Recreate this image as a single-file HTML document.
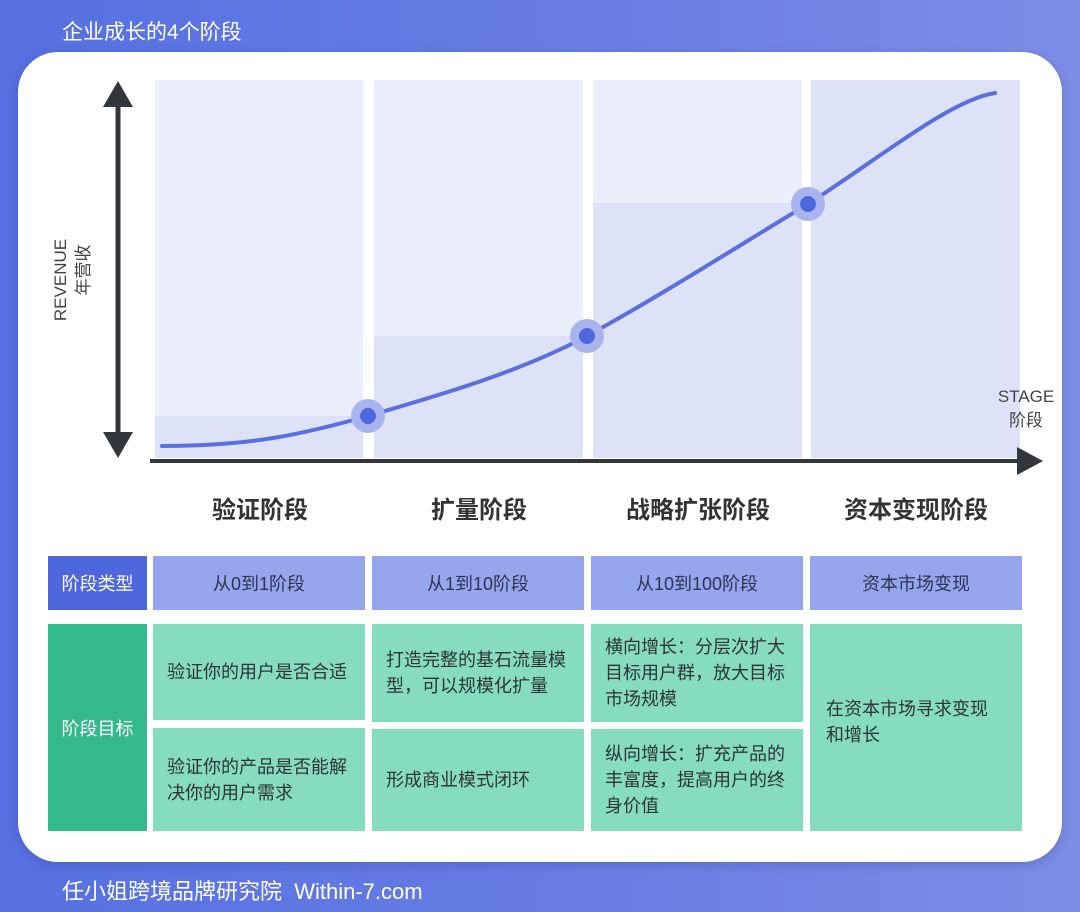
<!DOCTYPE html>
<html><head><meta charset="utf-8"><style>
html,body{margin:0;padding:0;width:1080px;height:912px;overflow:hidden}
body{background:linear-gradient(90deg,#5670e2 0%,#6a7fe4 60%,#7d8de6 100%);font-family:"Liberation Sans","Noto Sans CJK SC",sans-serif;position:relative}
.t{position:absolute;color:#fff}
.card{position:absolute;left:18px;top:52px;width:1044px;height:810px;background:#fff;border-radius:40px;box-shadow:0 3px 10px rgba(40,50,120,.25)}
.c{position:absolute;display:flex;align-items:center;font-size:18px;color:#2e3338;box-sizing:border-box}
.h{justify-content:center;background:#95a5ee;color:#2e3450}
.g{background:#86dcbe;padding:0 12px 0 14px;line-height:26px}
.lbl{position:absolute;top:490px;width:210px;text-align:center;font-size:24px;font-weight:bold;color:#333}
</style></head><body>
<div class="t" style="left:62px;top:16px;font-size:21px">企业成长的4个阶段</div>
<div class="t" style="left:62px;top:874px;font-size:22px">任小姐跨境品牌研究院&nbsp;&nbsp;Within-7.com</div>
<div class="card"></div>
<svg style="position:absolute;left:0;top:0" width="1080" height="912">
<rect x="155" y="80" width="208" height="378" fill="#ebeffb"/>
<rect x="155" y="416" width="208" height="42" fill="#dde2f7"/>
<rect x="374" y="80" width="209" height="378" fill="#ebeffb"/>
<rect x="374" y="336" width="209" height="122" fill="#dde2f7"/>
<rect x="593" y="80" width="209" height="378" fill="#ebeffb"/>
<rect x="593" y="203" width="209" height="255" fill="#dde2f7"/>
<rect x="811" y="80" width="209" height="378" fill="#dde2f7"/>
<path d="M162,446 C250,446 300,435 368,416 C440,395 520,372 587,336 C660,296 740,245 808,204 C880,158 950,100 995,93" fill="none" stroke="#5a70e0" stroke-width="4" stroke-linecap="round"/>
<g fill="#a9b4ee"><circle cx="368" cy="416" r="17"/><circle cx="587" cy="336" r="17"/><circle cx="808" cy="204" r="17"/></g>
<g fill="#4f67dc"><circle cx="368" cy="416" r="8"/><circle cx="587" cy="336" r="8"/><circle cx="808" cy="204" r="8"/></g>
<line x1="118" y1="100" x2="118" y2="440" stroke="#33363c" stroke-width="5"/>
<polygon points="118,81 103,107 133,107" fill="#33363c"/>
<polygon points="118,458 103,432 133,432" fill="#33363c"/>
<line x1="150" y1="461" x2="1020" y2="461" stroke="#33363c" stroke-width="4"/>
<polygon points="1043,461 1017,447 1017,475" fill="#33363c"/>
<text transform="translate(66,280) rotate(-90)" text-anchor="middle" font-size="17" fill="#444" font-family="Liberation Sans,sans-serif">REVENUE</text>
<text transform="translate(89,270) rotate(-90)" text-anchor="middle" font-size="17" fill="#444" font-family="Noto Sans CJK SC,sans-serif">年营收</text>
<text x="1026" y="402" text-anchor="middle" font-size="17" fill="#444" font-family="Liberation Sans,sans-serif">STAGE</text>
<text x="1026" y="426" text-anchor="middle" font-size="17" fill="#444" font-family="Noto Sans CJK SC,sans-serif">阶段</text>
</svg>
<div class="lbl" style="left:155px">验证阶段</div>
<div class="lbl" style="left:374px">扩量阶段</div>
<div class="lbl" style="left:593px">战略扩张阶段</div>
<div class="lbl" style="left:811px">资本变现阶段</div>

<div class="c" style="left:48px;top:556px;width:99px;height:54px;justify-content:center;background:#4f67dc;color:#fff">阶段类型</div>
<div class="c h" style="left:153px;top:556px;width:212px;height:54px">从0到1阶段</div>
<div class="c h" style="left:372px;top:556px;width:212px;height:54px">从1到10阶段</div>
<div class="c h" style="left:591px;top:556px;width:212px;height:54px">从10到100阶段</div>
<div class="c h" style="left:810px;top:556px;width:212px;height:54px">资本市场变现</div>

<div class="c" style="left:48px;top:624px;width:99px;height:207px;justify-content:center;background:#34b98a;color:#fff">阶段目标</div>
<div class="c g" style="left:153px;top:624px;width:212px;height:96px">验证你的用户是否合适</div>
<div class="c g" style="left:153px;top:728px;width:212px;height:103px">验证你的产品是否能解决你的用户需求</div>
<div class="c g" style="left:372px;top:624px;width:212px;height:98px">打造完整的基石流量模型，可以规模化扩量</div>
<div class="c g" style="left:372px;top:729px;width:212px;height:102px">形成商业模式闭环</div>
<div class="c g" style="left:591px;top:624px;width:212px;height:98px">横向增长：分层次扩大目标用户群，放大目标市场规模</div>
<div class="c g" style="left:591px;top:729px;width:212px;height:102px">纵向增长：扩充产品的丰富度，提高用户的终身价值</div>
<div class="c g" style="left:810px;top:624px;width:212px;height:207px;padding:0 24px 12px 16px">在资本市场寻求变现和增长</div>
</body></html>
